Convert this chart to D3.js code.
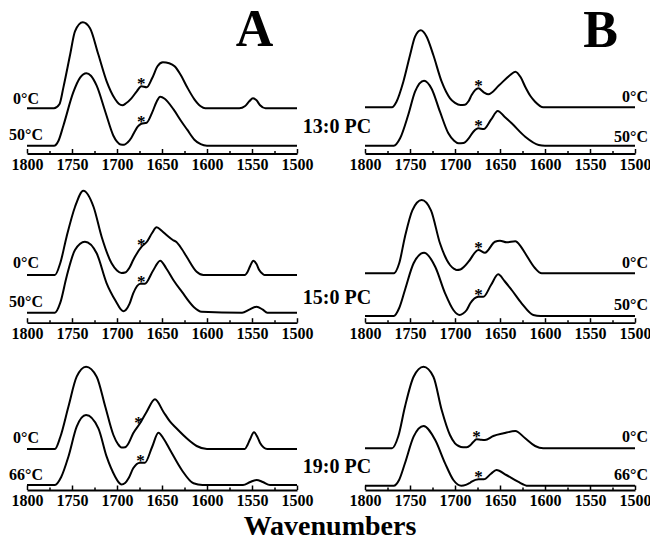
<!DOCTYPE html>
<html><head><meta charset="utf-8">
<script src="https://cdn.jsdelivr.net/npm/d3@7"></script>
<style>
body{margin:0;background:#fff}
svg{display:block}
text{font-family:"Liberation Serif","Times New Roman",serif;font-weight:bold;fill:#000}
</style>
</head><body><svg id="c" width="650" height="542"></svg>
<script>
// ---------------- data ----------------
const majorTicks = [1800,1750,1700,1650,1600,1550,1500];
const minorTicks = [1775,1725,1675,1625,1575,1525];
const lipids = ["13:0 PC","15:0 PC","19:0 PC"];
const panelLetters = ["A","B"];
const tempLabels = [["0°C","50°C"],["0°C","50°C"],["0°C","66°C"]];
const axisTitle = "Wavenumbers";

// spectra: [wavenumber (cm-1), absorbance (arb. units)]
const A13_low = [[1800,0],[1770,0],[1764,4],[1759.6,20.7],[1752,54],[1746.7,77],[1738,86],[1730,80],[1720.8,54],[1711.5,27],[1702,9],[1698,4.5],[1694,3],[1690,5],[1684,10],[1678,17],[1673,22],[1667,21],[1661,30],[1655,42],[1649,46],[1642,45],[1636,42],[1629,33],[1622,21],[1614,9],[1607,2],[1602,0],[1564,0],[1558,2],[1553,7],[1549,10],[1545,8],[1541,3],[1535,0],[1500,0]];
const A13_high = [[1800,0],[1770,0],[1765,5],[1759.6,20],[1748.5,53.5],[1741,68],[1734,72.5],[1729,70],[1722.6,60],[1713,34],[1704,10],[1700,4],[1696,1.2],[1692,1],[1688,3.5],[1684,8],[1681,13],[1677,19],[1673,22],[1667,23],[1661,33],[1656,44],[1652,49],[1647,47],[1637,36],[1629,25],[1622,16],[1614,6],[1607,1.5],[1600,0],[1500,0]];
const B13_low = [[1800,0],[1770,0],[1765,5.6],[1757.4,25.6],[1750,52],[1744.4,70.6],[1738,77],[1731.5,70.6],[1724,52],[1714.8,25.6],[1705.5,9],[1700,4.5],[1694,2.3],[1689,2.6],[1685,6],[1681.5,12.3],[1674,19],[1668,15],[1663,13],[1651,22],[1639,32],[1633,35.6],[1627,30],[1622,20.6],[1616,11],[1611,5.6],[1602,0],[1500,0]];
const B13_high = [[1800,0],[1768,0],[1761,7.4],[1752,30.7],[1744.4,54],[1734.4,65],[1726,57],[1716.7,34],[1707.4,12.4],[1701,5],[1696,2.4],[1690.7,2.6],[1685,7],[1679.6,14],[1674,17.4],[1668,16.7],[1660,26],[1652.5,34.7],[1645,29],[1637,22.4],[1622,9],[1607,0.7],[1600,0],[1500,0]];
const A15_low = [[1800,0],[1769,0],[1763,12],[1756,38.3],[1746.7,68],[1737.4,84.3],[1726,68],[1717,38],[1706,11.7],[1700,4.5],[1695,2],[1691,2.5],[1686,7.5],[1682,15],[1672.6,28.3],[1667,33],[1661,42],[1656,47.7],[1650,44],[1645,40],[1638,35],[1634,33],[1628,26],[1622.6,18.3],[1611.5,3.3],[1604,0],[1558,0],[1555,3],[1552,9],[1548.5,14.3],[1545,11],[1542,5],[1538,1],[1536,0],[1500,0]];
const A15_high = [[1800,0],[1769,0],[1763,10],[1756,36],[1746.7,62.7],[1735.6,71],[1722.6,59.4],[1711.5,29.4],[1700,9.4],[1696,3.5],[1693,1.5],[1690,3],[1686,9],[1682,19.4],[1674,29],[1669,29],[1660,42],[1652,52],[1645,44],[1637.4,32.7],[1628,21],[1615,6],[1606,1],[1561,0],[1553,3],[1545,6],[1538,3],[1533,0],[1500,0]];
const B15_low = [[1800,0],[1768,0],[1762,10],[1755.6,36.6],[1747.4,63],[1737,73.3],[1726.7,63],[1716.7,30],[1705.6,8.3],[1701,4.5],[1698,3.3],[1694,3.8],[1690,6.5],[1685,11.6],[1674,23.3],[1666.7,20.6],[1655.6,31.6],[1650,32.6],[1642.6,31],[1633,32],[1627,27],[1622,20],[1611,5],[1603.7,0],[1500,0]];
const B15_high = [[1800,0],[1768,0],[1762,8],[1755.6,26],[1746,52.7],[1734.4,63.3],[1722,49.3],[1711,22.7],[1701.8,6],[1698,2.2],[1695,1],[1691,2.5],[1687,6],[1683,12.7],[1674,19.3],[1668.5,19.3],[1660,31],[1652,41.7],[1645,35],[1637,26],[1626,12.7],[1613,1],[1605,0],[1500,0]];
const A19_low = [[1800,0],[1769,0],[1763,12],[1754,42.3],[1744.8,72.3],[1734.4,82.3],[1722.6,72.3],[1713,42.3],[1704,14],[1699,5],[1695,1.5],[1691,1.8],[1687,6],[1682,15.7],[1674.4,25.7],[1667,37.3],[1657.8,49.7],[1648.5,37.3],[1641,27.3],[1634,20.7],[1622.6,10.7],[1611.5,3],[1600,0],[1558,0],[1555,4],[1552,10],[1547.8,16.7],[1544,12],[1541,6],[1537,1.5],[1533,0],[1500,0]];
const A19_high = [[1800,0],[1769,0],[1762,8],[1754,28.3],[1744.8,58.3],[1734.4,70],[1720.7,56.7],[1711.5,28.3],[1702,8.3],[1698,2.5],[1695,0.5],[1691,2],[1687,7],[1682,16.7],[1674.4,22.3],[1669,22.3],[1661,38],[1654,52.3],[1648,46],[1641,35],[1628,15],[1615,1.7],[1605,0],[1560,0],[1552,3],[1545,5],[1538,3],[1530,0],[1500,0]];
const B19_low = [[1800,0],[1770,0],[1763,12],[1755.6,41.6],[1746,71.6],[1735,81.6],[1724,71.6],[1714.8,38.3],[1705.6,13.3],[1700,5],[1696,2.3],[1691,1],[1687,1],[1683,3],[1680,6],[1676,9],[1671,8.5],[1666.7,8.3],[1657.4,12.3],[1646,15],[1633,17.3],[1622,10],[1611,2.3],[1602,0],[1500,0]];
const B19_high = [[1800,0],[1768,0],[1762,6],[1755.6,22.4],[1746,49],[1735,59.7],[1722,45.7],[1711,22.4],[1701.8,5.7],[1697,1.2],[1693,0],[1688,0.8],[1684,2.5],[1681.5,4],[1674,6.4],[1668,6.4],[1660,12],[1654,15.7],[1643,10.7],[1630,4],[1619,0],[1500,0]];
// asterisk wavenumbers [row][col][curve]
const starWnRows = [[[1673,1673],[1674,1674]],[[1673,1673],[1674,1674]],[[1676,1674],[1676,1674]]];

// ---------------- layout ----------------
const spectra = [[[A13_low,A13_high],[B13_low,B13_high]],
                 [[A15_low,A15_high],[B15_low,B15_high]],
                 [[A19_low,A19_high],[B19_low,B19_high]]];
const colX = [[27,297],[365,635]];
const axisY = [153.5,322.7,490];
const baseY = [[[108.3,145.7],[107.3,145.7]],[[275,312.7],[273.3,316]],[[449,485],[448.3,485.7]]];
const leftLabelY = [[104,140],[268,306.7],[443,480]];
const rightLabelY = [[101.7,141.7],[268.3,310],[441.7,480]];
const lipidY = [133,304,473];

const svg = d3.select("#c");
const FONT = '"Liberation Serif","Times New Roman",serif';

function valueAt(data, wn){
  for(let i=0;i<data.length-1;i++){
    const a=data[i], b=data[i+1];
    if(wn<=a[0] && wn>=b[0]){ const t=(a[0]-wn)/(a[0]-b[0]); return a[1]+t*(b[1]-a[1]); }
  }
  return 0;
}

for(let r=0;r<3;r++){
  for(let c=0;c<2;c++){
    const x = d3.scaleLinear().domain([1800,1500]).range(colX[c]);
    const g = svg.append("g");
    const ax = g.append("g").attr("transform",`translate(0,${axisY[r]})`)
      .call(d3.axisBottom(x).tickValues(majorTicks).tickSizeInner(-4.5).tickSizeOuter(0).tickPadding(5).tickFormat(d3.format("d")));
    ax.select(".domain").attr("stroke-width",1.8);
    ax.selectAll(".tick line").attr("stroke-width",1.5);
    ax.selectAll("text").attr("font-size",16).attr("font-family",FONT).attr("font-weight","bold");
    const axm = g.append("g").attr("transform",`translate(0,${axisY[r]})`)
      .call(d3.axisBottom(x).tickValues(minorTicks).tickSizeInner(-2.5).tickSizeOuter(0).tickFormat(""));
    axm.select(".domain").remove();
    axm.selectAll(".tick line").attr("stroke-width",1.5);

    for(let k=0;k<2;k++){
      const data = spectra[r][c][k];
      const y = d3.scaleLinear().domain([0,100]).range([baseY[r][c][k], baseY[r][c][k]-100]);
      const line = d3.line().x(d=>x(d[0])).y(d=>y(d[1])).curve(d3.curveMonotoneX);
      g.append("path").datum(data).attr("d",line)
        .attr("fill","none").attr("stroke","#000").attr("stroke-width",2).attr("stroke-linejoin","round");
      const sw = starWnRows[r][c][k];
      g.append("text").attr("x",x(sw)).attr("y",y(valueAt(data,sw))+3)
        .attr("text-anchor","middle").attr("font-size",17).text("*");
      if(c===0){
        g.append("text").attr("x",26).attr("y",leftLabelY[r][k]).attr("text-anchor","middle")
          .attr("font-size",16).text(tempLabels[r][k]);
      } else {
        g.append("text").attr("x",648).attr("y",rightLabelY[r][k]).attr("text-anchor","end")
          .attr("font-size",16).text(tempLabels[r][k]);
      }
    }
  }
  svg.append("text").attr("x",337).attr("y",lipidY[r]).attr("text-anchor","middle")
    .attr("font-size",20).text(lipids[r]);
}
svg.append("text").attr("x",254.5).attr("y",46).attr("text-anchor","middle").attr("font-size",52).text(panelLetters[0]);
svg.append("text").attr("x",600.5).attr("y",47).attr("text-anchor","middle").attr("font-size",52).text(panelLetters[1]);
svg.append("text").attr("x",330).attr("y",535).attr("text-anchor","middle").attr("font-size",28).text(axisTitle);
</script>
</body></html>
